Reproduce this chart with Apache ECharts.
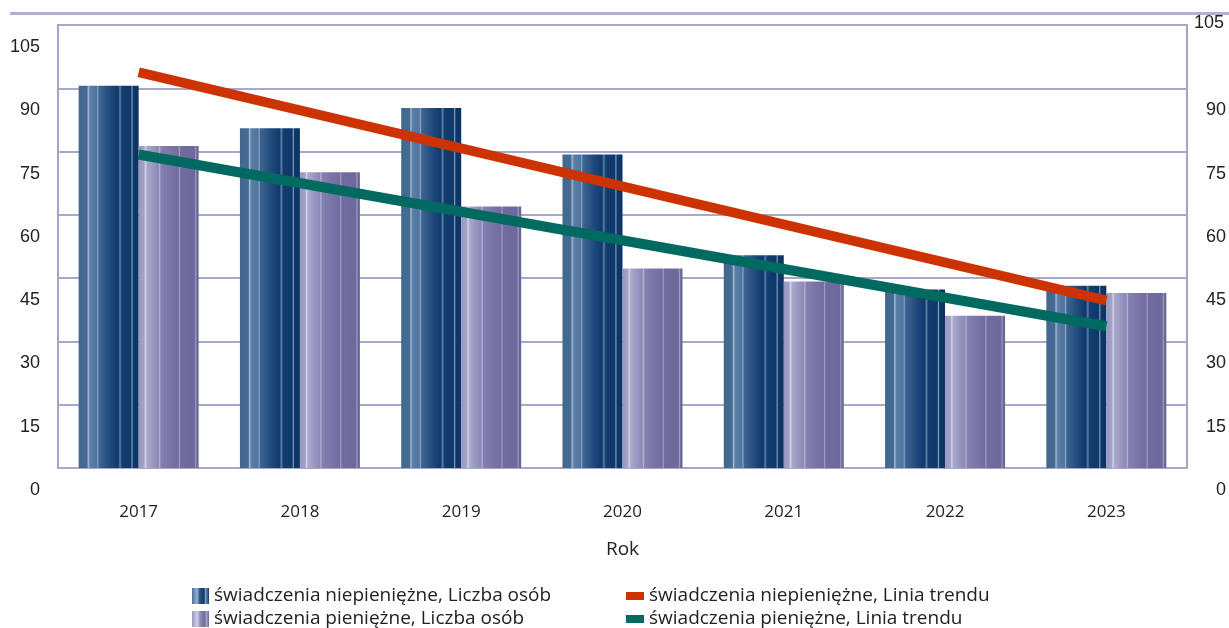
<!DOCTYPE html>
<html lang="pl">
<head>
    <meta charset="UTF-8">
    <title>Świadczenia</title>
    <script src="https://cdn.jsdelivr.net/npm/echarts@6/dist/echarts.min.js"></script>
    <style>
        html, body { margin: 0; padding: 0; background: #fff; }
        #main { width: 1229px; height: 628px; }
    </style>
</head>
<body>
<div id="main"></div>
<script type="text/javascript">
    // dane
    var lata = ['2017', '2018', '2019', '2020', '2021', '2022', '2023'];
    var niepieniezne = [90.6, 80.5, 85.3, 74.3, 50.4, 42.3, 43.2];
    var pieniezne = [76.3, 70.1, 62.0, 47.3, 44.2, 36.1, 41.5];
    // linie trendu: tylko punkty początkowy i końcowy, reszta łączona
    var trendNiepieniezne = [93.8, null, null, null, null, null, 39.7];
    var trendPieniezne = [74.3, null, null, null, null, null, 33.6];

    var nazwy = [
        'świadczenia niepieniężne, Liczba osób',
        'świadczenia pieniężne, Liczba osób',
        'świadczenia niepieniężne, Linia trendu',
        'świadczenia pieniężne, Linia trendu'
    ];

    function paski(stops) {
        return new echarts.graphic.LinearGradient(0, 0, 1, 0, stops.map(function (s) {
            return { offset: s[0], color: s[1] };
        }));
    }

    var ciemny = paski([
        [0, '#42678f'], [0.14, '#456b94'], [0.16, '#a4bad2'], [0.19, '#5a7ea6'],
        [0.30, '#4f749e'], [0.32, '#8aa4c2'], [0.34, '#3e6592'], [0.55, '#1c4679'],
        [0.66, '#113a6b'], [0.69, '#5a7fa7'], [0.72, '#133d6e'], [0.87, '#0f386a'],
        [0.89, '#7f9cbd'], [0.91, '#0e3768'], [1, '#0c3465']
    ]);
    var jasny = paski([
        [0, '#9896c0'], [0.09, '#a3a3c9'], [0.11, '#d2d3e6'], [0.14, '#a9a8cc'],
        [0.33, '#8b88b7'], [0.35, '#b6b4d4'], [0.37, '#8480b0'], [0.66, '#726ca0'],
        [0.68, '#a09cc4'], [0.70, '#716ca0'], [0.93, '#6d699c'], [0.95, '#9c9ac0'],
        [0.97, '#6b6898'], [1, '#6a6797']
    ]);
    var ciemnyIkona = paski([[0, '#4a6f98'], [0.3, '#9ab2cc'], [0.45, '#2f5686'], [0.7, '#0f386a'], [0.8, '#7f9cbd'], [1, '#0d3566']]);
    var jasnyIkona = paski([[0, '#9a98c2'], [0.3, '#cfd0e4'], [0.5, '#8c88b8'], [0.75, '#726ca0'], [0.85, '#a6a2c8'], [1, '#6a6797']]);

    var fontOs = '"Liberation Sans Narrow", "Liberation Sans", sans-serif';
    var fontTekst = '"Open Sans", "DejaVu Sans", sans-serif';

    var myChart = echarts.init(document.getElementById('main'));
    myChart.setOption({
        animation: false,
        grid: {
            left: 58, right: 42, top: 25, bottom: 160,
            show: true, borderColor: '#a4a4c8', borderWidth: 2, backgroundColor: 'transparent'
        },
        graphic: [
            { type: 'rect', shape: { x: 10, y: 12, width: 1219, height: 3 }, style: { fill: '#b0b0d2' } },
            { type: 'text', right: 5, top: 14, style: { text: '105', font: '18px ' + fontOs, fill: '#222' } }
        ],
        legend: [{
            orient: 'vertical', left: 187, top: 580, height: 80,
            itemWidth: 17, itemHeight: 16, itemGap: 1, icon: 'rect',
            textStyle: { fontFamily: fontTekst, fontSize: 19, lineHeight: 22, color: '#222' },
            data: [
                { name: nazwy[0], itemStyle: { color: ciemnyIkona } },
                { name: nazwy[1], itemStyle: { color: jasnyIkona } }
            ]
        }, {
            orient: 'vertical', left: 621, top: 580, height: 80,
            itemWidth: 18, itemHeight: 8, itemGap: 1, icon: 'rect',
            textStyle: { fontFamily: fontTekst, fontSize: 19, lineHeight: 22, color: '#222' },
            data: [nazwy[2], nazwy[3]]
        }],
        xAxis: {
            type: 'category',
            data: lata,
            name: 'Rok',
            nameLocation: 'middle',
            nameGap: 72,
            nameTextStyle: { fontFamily: fontTekst, fontSize: 19, color: '#222' },
            axisLine: { show: false },
            axisTick: { show: false },
            axisLabel: { margin: 36, fontFamily: fontTekst, fontSize: 17, color: '#222' }
        },
        yAxis: [{
            type: 'value', min: 0, max: 105, interval: 15,
            axisLine: { show: false }, axisTick: { show: false },
            splitLine: { lineStyle: { color: '#a8a8cc', width: 2 } },
            axisLabel: {
                margin: 18, verticalAlign: 'top', lineHeight: 44,
                fontFamily: fontOs, fontSize: 18, color: '#222'
            }
        }, {
            type: 'value', min: 0, max: 105, interval: 15, position: 'right',
            axisLine: { show: false }, axisTick: { show: false }, splitLine: { show: false },
            axisLabel: {
                margin: 39, align: 'right', showMaxLabel: false, verticalAlign: 'top', lineHeight: 44,
                fontFamily: fontOs, fontSize: 18, color: '#222'
            }
        }],
        series: [{
            name: nazwy[0], type: 'bar', data: niepieniezne, barWidth: 60, barGap: '0%',
            itemStyle: { color: ciemny }
        }, {
            name: nazwy[1], type: 'bar', data: pieniezne, barWidth: 60, barGap: '0%',
            itemStyle: { color: jasny }
        }, {
            name: nazwy[2], type: 'line', data: trendNiepieniezne, connectNulls: true,
            showSymbol: false, symbol: 'none', z: 5,
            lineStyle: { color: '#cc3300', width: 10 }, itemStyle: { color: '#cc3300' }
        }, {
            name: nazwy[3], type: 'line', data: trendPieniezne, connectNulls: true,
            showSymbol: false, symbol: 'none', z: 5,
            lineStyle: { color: '#006a60', width: 10 }, itemStyle: { color: '#006a60' }
        }]
    });
</script>
</body>
</html>
